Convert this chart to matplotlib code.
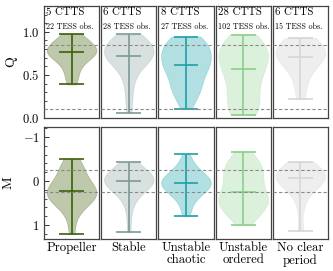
import numpy as np
import matplotlib
matplotlib.use("Agg")
import matplotlib.pyplot as plt
from matplotlib.ticker import AutoMinorLocator, MultipleLocator

plt.rcParams['font.family'] = ['cmr10', 'DejaVu Serif']
plt.rcParams['mathtext.fontset'] = 'cm'
plt.rcParams['axes.formatter.use_mathtext'] = True

categories = ["Propeller", "Stable", "Unstable\nchaotic", "Unstable\nordered", "No clear\nperiod"]
n_ctts = [5, 6, 8, 28, 6]
n_obs = [22, 28, 27, 102, 15]
line_colors = ["#3d5f0c", "#7c9a9a", "#1fa0a6", "#8ccf8c", "#d6d6d6"]
face_colors = ["#5b7a2c", "#9fb3b3", "#3fb3b8", "#a8dca8", "#d6d6d6"]

q_propeller = [0.39, 0.45, 0.52, 0.58, 0.63, 0.67, 0.70, 0.72, 0.74, 0.75, 0.76,
               0.77, 0.78, 0.80, 0.81, 0.83, 0.85, 0.87, 0.89, 0.92, 0.95, 0.98]
q_stable = [0.06, 0.20, 0.32, 0.42, 0.50, 0.56, 0.60, 0.63, 0.66, 0.68, 0.70, 0.71,
            0.72, 0.72, 0.73, 0.75, 0.77, 0.79, 0.81, 0.83, 0.84, 0.86, 0.87, 0.88,
            0.90, 0.92, 0.94, 0.97]
q_chaotic = [0.11, 0.20, 0.27, 0.31, 0.34, 0.37, 0.40, 0.44, 0.50, 0.55, 0.58, 0.60,
             0.61, 0.62, 0.64, 0.67, 0.70, 0.73, 0.76, 0.79, 0.81, 0.83, 0.85, 0.87,
             0.89, 0.92, 0.945]
q_ordered = [0.035, 0.04, 0.06, 0.08, 0.11, 0.14, 0.18, 0.22, 0.26, 0.30, 0.34, 0.38,
             0.42, 0.46, 0.50, 0.53, 0.55, 0.57, 0.60, 0.63, 0.65, 0.68, 0.70, 0.72,
             0.74, 0.76, 0.78, 0.80, 0.82, 0.84, 0.86, 0.88, 0.91, 0.94, 0.965]
q_noperiod = [0.22, 0.38, 0.50, 0.58, 0.64, 0.68, 0.70, 0.71, 0.74, 0.78, 0.81, 0.84,
              0.87, 0.90, 0.93]

m_propeller = [-0.50, -0.42, -0.33, -0.25, -0.15, -0.05, 0.02, 0.08, 0.13, 0.18, 0.22,
               0.25, 0.28, 0.31, 0.35, 0.38, 0.42, 0.47, 0.53, 0.62, 0.85, 1.21]
m_stable = [-0.43, -0.38, -0.33, -0.28, -0.24, -0.20, -0.17, -0.14, -0.11, -0.08,
            -0.06, -0.04, -0.02, -0.01, 0.01, 0.03, 0.05, 0.08, 0.11, 0.14, 0.18,
            0.22, 0.27, 0.33, 0.42, 0.55, 0.80, 1.17]
m_chaotic = [-0.61, -0.45, -0.35, -0.28, -0.22, -0.17, -0.13, -0.10, -0.07, -0.04,
             -0.02, 0.00, 0.02, 0.05, 0.07, 0.09, 0.12, 0.15, 0.18, 0.21, 0.25, 0.29,
             0.34, 0.40, 0.50, 0.65, 0.80]
m_ordered = [-0.67, -0.58, -0.50, -0.44, -0.38, -0.33, -0.28, -0.24, -0.20, -0.16,
             -0.12, -0.07, -0.01, 0.06, 0.13, 0.19, 0.24, 0.29, 0.33, 0.37, 0.40, 0.43,
             0.46, 0.49, 0.52, 0.55, 0.59, 0.63, 0.68, 0.74, 0.81, 0.90, 0.99]
m_noperiod = [-0.44, -0.36, -0.28, -0.22, -0.17, -0.13, -0.10, -0.08, -0.04, 0.00,
              0.05, 0.12, 0.25, 0.55, 1.13]

q_data = [q_propeller, q_stable, q_chaotic, q_ordered, q_noperiod]
m_data = [m_propeller, m_stable, m_chaotic, m_ordered, m_noperiod]
q_thresholds = [0.11, 0.85]
m_thresholds = [-0.25, 0.25]

fig, axes = plt.subplots(2, 5, figsize=(3.33, 2.71), dpi=100, sharey='row')
fig.subplots_adjust(left=0.132, right=0.985, top=0.978, bottom=0.118,
                    wspace=0.036, hspace=0.08)

for row, (data, thr) in enumerate([(q_data, q_thresholds), (m_data, m_thresholds)]):
    for col in range(5):
        ax = axes[row, col]
        vp = ax.violinplot([data[col]], positions=[1], widths=0.9,
                           showextrema=True, showmedians=True)
        for body in vp['bodies']:
            body.set_facecolor(face_colors[col])
            body.set_edgecolor(face_colors[col])
            body.set_alpha(0.4)
            body.set_linewidth(0.5)
        for key in ['cbars', 'cmins', 'cmaxes', 'cmedians']:
            vp[key].set_color(line_colors[col])
            vp[key].set_linewidth(1.2)
        for t in thr:
            ax.axhline(t, color='#8a8a8a', linestyle=(0, (3, 2)), linewidth=0.8, zorder=3)
        ax.set_xlim(0.5, 1.5)
        for sp in ax.spines.values():
            sp.set_color('#444444')
            sp.set_linewidth(0.9)
        if row == 0:
            ax.set_xticks([])
            ax.text(0.04, 0.985, f"{n_ctts[col]} CTTS", transform=ax.transAxes,
                    ha='left', va='top', fontsize=7.8)
            ax.text(0.04, 0.855, f"{n_obs[col]} TESS obs.", transform=ax.transAxes,
                    ha='left', va='top', fontsize=5.8)
        else:
            ax.set_xticks([1])
            ax.set_xticklabels([categories[col]], fontsize=9.2, linespacing=1.0)
            ax.tick_params(axis='x', length=0, pad=2)
        if col == 0:
            ax.tick_params(axis='y', which='both', direction='in', labelsize=9,
                           colors='#333333', labelcolor='black', pad=3)
            ax.tick_params(axis='y', which='major', length=3.5, width=0.7)
            ax.tick_params(axis='y', which='minor', length=2, width=0.6)
        else:
            ax.tick_params(axis='y', which='both', left=False, labelleft=False)

axes[0, 0].set_ylim(0.0, 1.3)
axes[0, 0].yaxis.set_major_locator(MultipleLocator(0.5))
axes[0, 0].yaxis.set_minor_locator(AutoMinorLocator(5))
axes[0, 0].set_ylabel("Q", fontsize=10, labelpad=4)

axes[1, 0].set_ylim(1.32, -1.23)
axes[1, 0].yaxis.set_major_locator(MultipleLocator(1))
axes[1, 0].yaxis.set_minor_locator(AutoMinorLocator(5))
axes[1, 0].set_ylabel("M", fontsize=10, labelpad=6)

fig.savefig("out.png", dpi=100)
